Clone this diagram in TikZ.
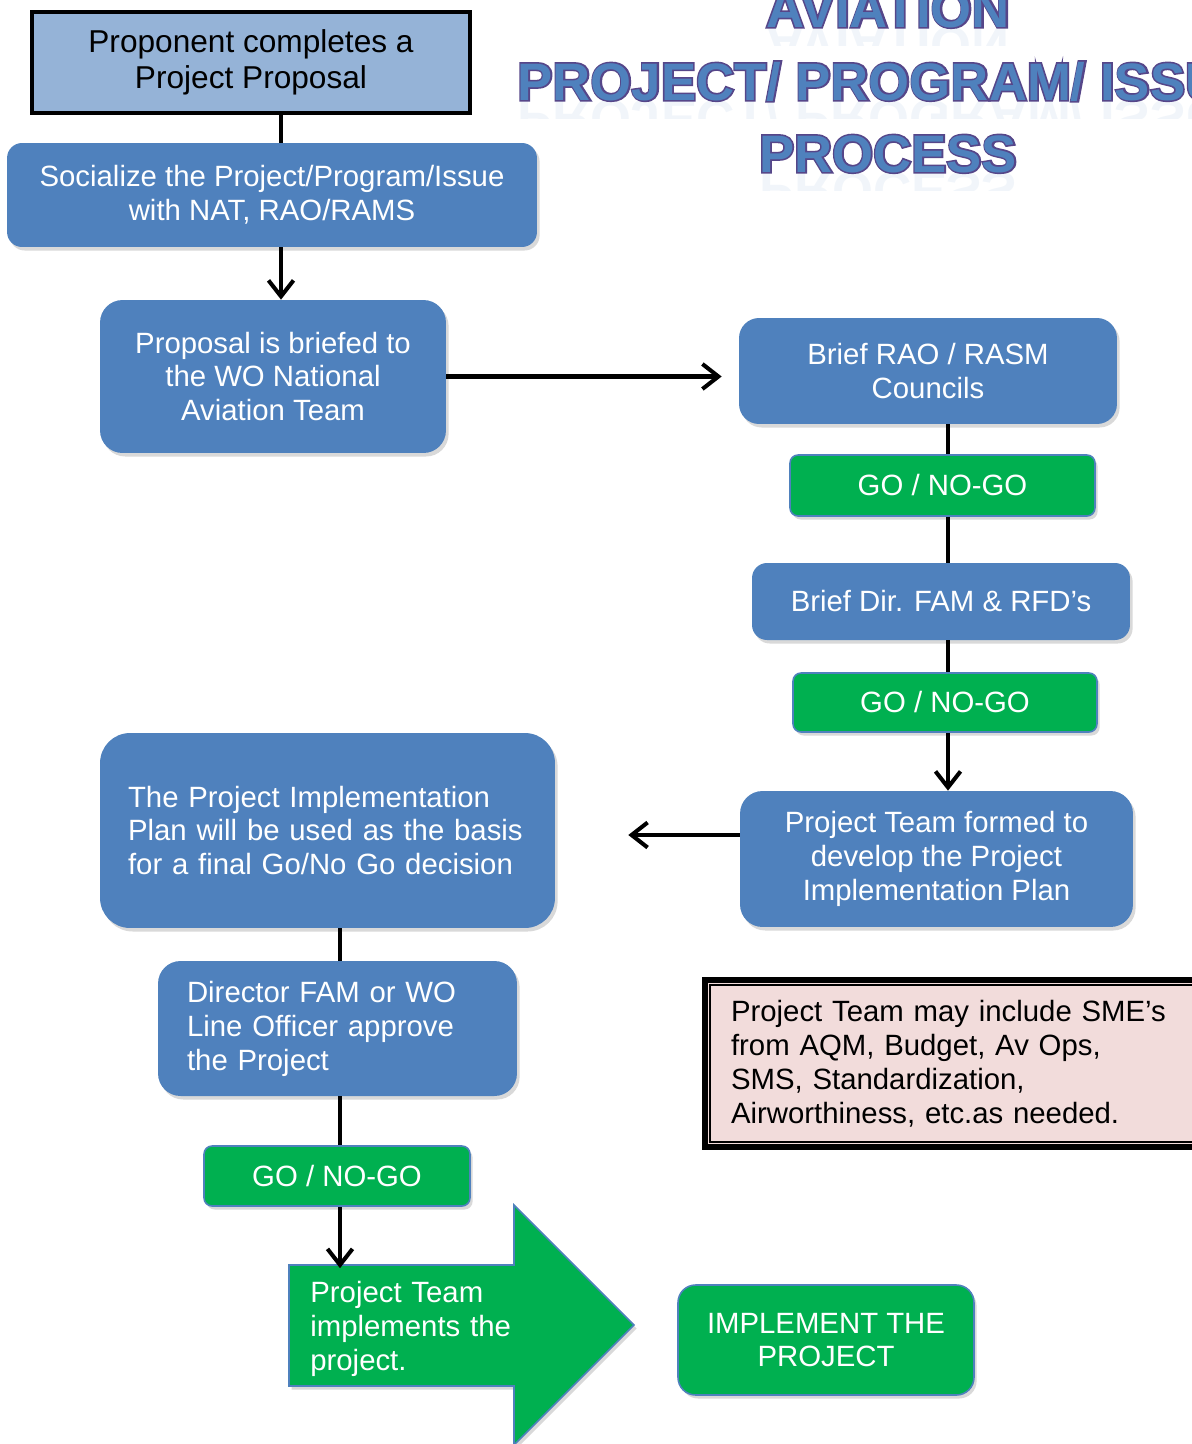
\documentclass[tikz,border=0pt]{standalone}
\usepackage{fontspec}
\setmainfont{Liberation Sans}
\newfontfamily\ttledgefont{Liberation Sans}[FakeBold=6]
\usetikzlibrary{shapes,shadows,arrows.meta}
\definecolor{boxblue}{HTML}{4F81BD}
\definecolor{lightblue}{HTML}{95B3D7}
\definecolor{gogreen}{HTML}{00B050}
\definecolor{notepink}{HTML}{F2DCDB}
\definecolor{titleedge}{HTML}{564689}
\tikzstyle{shd}=[drop shadow={opacity=0.3,shadow xshift=1.5pt,shadow yshift=-2pt}]
\tikzstyle{bx}=[rectangle,rounded corners=0.45cm,fill=boxblue,text=white,align=center,shd]
\tikzstyle{gobx}=[rectangle,rounded corners=0.16cm,fill=gogreen,draw=boxblue,line width=0.9pt,text=white,align=center,shd]
\tikzstyle{link}=[line width=2.3pt]
\tikzstyle{flow}=[link,-{Straight Barb[length=0.32cm,width=0.5cm]}]
\tikzstyle{ttl}=[font=\fontsize{30}{36}\selectfont\bfseries,inner sep=0pt]
\newcommand{\ttlline}[3]{%
  \begin{scope}
    \clip (480,#2) rectangle (1192,{#2+18});
    \begin{scope}[shift={(888,#2)},yscale=-1]
      \node[ttl,text=boxblue!35,opacity=0.22,anchor=base,transform shape] at (0,0) {#1};
    \end{scope}
  \end{scope}
  \node[ttl,font=\fontsize{30}{36}\selectfont\ttledgefont\bfseries,text=titleedge,anchor=base] at (888,#2) {#1};
  \node[ttl,text=boxblue,anchor=base] (#3) at (888,#2) {#1};
}

\begin{document}
\begin{tikzpicture}[x=0.02cm,y=-0.02cm,font=\fontsize{16.7}{19.3}\selectfont]
\useasboundingbox (0,0) rectangle (1192,1444);
\clip (0,0) rectangle (1192,1444);

\ttlline{AVIATION}{27}{t1}
\ttlline{PROJECT/ PROGRAM/ ISSUE}{100}{t2}
\ttlline{PROCESS}{172}{t3}

\node[draw=black,line width=2.3pt,fill=lightblue,align=center,font=\fontsize{18}{20.5}\selectfont,minimum width=8.76cm,minimum height=2.02cm] (proposal) at (251,62.5) {Proponent completes a\\Project Proposal};
\node[bx,rounded corners=0.3cm,minimum width=10.6cm,minimum height=2.08cm] (socialize) at (272,195) {Socialize the Project/Program/Issue\\with NAT, RAO/RAMS};
\node[bx,minimum width=6.92cm,minimum height=3.06cm] (briefed) at (273,376.5) {Proposal is briefed to\\the WO National\\Aviation Team};
\node[bx,rounded corners=0.4cm,minimum width=7.56cm,minimum height=2.12cm] (rao) at (928,371) {Brief RAO / RASM\\Councils};
\node[gobx,minimum width=6.1cm,minimum height=1.22cm] (go1) at (942.5,485.5) {GO / NO-GO};
\node[bx,rounded corners=0.3cm,minimum width=7.56cm,minimum height=1.54cm] (dirfam) at (941,601.5) {Brief Dir. FAM \& RFD’s};
\node[gobx,minimum width=6.08cm,minimum height=1.18cm] (go2) at (945,702.5) {GO / NO-GO};
\node[bx,minimum width=7.86cm,minimum height=2.72cm] (team) at (936.5,859) {Project Team formed to\\develop the Project\\Implementation Plan};
\node[bx,rounded corners=0.6cm,align=left,text width=7.98cm,inner xsep=0.56cm,minimum height=3.9cm] (plan) at (327.5,830.5) {The Project Implementation\\Plan will be used as the basis\\for a final Go/No Go decision};
\node[bx,align=left,text width=6.02cm,inner xsep=0.58cm,minimum height=2.7cm] (director) at (337.5,1028.5) {Director FAM or WO\\Line Officer approve\\the Project};
\node[gobx,minimum width=5.32cm,minimum height=1.2cm] (go3) at (337,1176) {GO / NO-GO};

\draw[fill=gogreen,draw=boxblue,line width=0.9pt,shd] (289,1265) -- (514,1265) -- (514,1205) -- (634,1325) -- (514,1445) -- (514,1386) -- (289,1386) -- cycle;
\node[anchor=west,text=white,align=left,text width=4.1cm,inner xsep=0.42cm,minimum height=2.42cm] (doit) at (289,1329) {Project Team\\implements the\\project.};
\node[gobx,rounded corners=0.35cm,minimum width=5.92cm,minimum height=2.2cm] (implement) at (826,1340) {IMPLEMENT THE\\PROJECT};

\node[draw=black,line width=3.4pt,fill=notepink,align=left,text width=8.82cm,inner xsep=0.52cm,minimum height=3.34cm] (note) at (951.5,1063.5) {Project Team may include SME’s\\from AQM, Budget, Av Ops,\\SMS, Standardization,\\Airworthiness, etc.as needed.};
\draw[line width=0.8pt] ([xshift=0.16cm,yshift=-0.16cm]note.north west) rectangle ([xshift=-0.16cm,yshift=0.16cm]note.south east);

\coordinate (xa) at (281,0);
\coordinate (xb) at (948,0);
\coordinate (xc) at (340,0);
\coordinate (ya) at (0,835);
\draw[link] (xa |- proposal.south) -- (xa |- socialize.north);
\draw[flow] (xa |- socialize.south) -- (xa |- briefed.north);
\draw[flow,shorten >=0.34cm] (briefed.east) -- (rao.west |- briefed.east);
\draw[link] (xb |- rao.south) -- (xb |- go1.north);
\draw[link] (xb |- go1.south) -- (xb |- dirfam.north);
\draw[link] (xb |- dirfam.south) -- (xb |- go2.north);
\draw[flow] (xb |- go2.south) -- (xb |- team.north);
\draw[flow,shorten >=1.46cm] (team.west |- ya) -- (plan.east |- ya);
\draw[link] (xc |- plan.south) -- (xc |- director.north);
\draw[link] (xc |- director.south) -- (xc |- go3.north);
\draw[flow] (xc |- go3.south) -- (xc |- doit.north);
\end{tikzpicture}
\end{document}
